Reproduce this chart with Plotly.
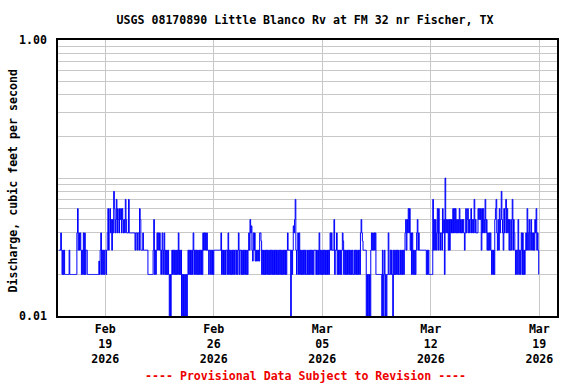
import pandas as pd
import plotly.graph_objects as go

# ---- data (hourly discharge codes, one string per day starting 2026-02-16) ----
start_time = "2026-02-16 00:00"
level_values = {"1": 0.01, "2": 0.02, "b": 0.025, "3": 0.03, "c": 0.035, "4": 0.04,
                "d": 0.045, "5": 0.05, "6": 0.06, "7": 0.07, "8": 0.08, "A": 0.10}
day_codes = [
    "333432323222222232222222",
    "222246343432324242332222",
    "22222222222222b234232323",
    "323463564535486457465465",
    "646545475444744444444434",
    "434436533343333333222222",
    "223523234343432342342323",
    "232121232323232324232312",
    "121212123232323243232323",
    "232323243434343323323232",
    "333333333334232323233242",
    "323232323323234233232323",
    "2323234354d3b434b3b3b3b4",
    "4c2323232323232323232323",
    "232323232323232323433331",
    "323d45732342423232323232",
    "232323232323332323242323",
    "232323232323434333523342",
    "32323234c232323232323232",
    "23232323232454c333331212",
    "121343434342222222221312",
    "312122422323213232323232",
    "232323234535464634242323",
    "234534333333333332323222",
    "2227353534636434436452A4",
    "545353545464646454546454",
    "545434645645456454574544",
    "465656364645745343434323",
    "232567435364585436467464",
    "535335735432323523234242",
    "323436345345343435463432",
]
tick_dates = ["2026-02-19", "2026-02-26", "2026-03-05", "2026-03-12", "2026-03-19"]
tick_labels = ["Feb<br>19<br>2026", "Feb<br>26<br>2026", "Mar<br>05<br>2026",
               "Mar<br>12<br>2026", "Mar<br>19<br>2026"]
y_tick_vals = [0.01, 1.0]
y_tick_labels = ["0.01", "1.00"]
y_grid_vals = [0.02, 0.03, 0.04, 0.05, 0.06, 0.07, 0.08, 0.09,
               0.1, 0.2, 0.3, 0.4, 0.5, 0.6, 0.7, 0.8, 0.9]
x_range = ["2026-02-15 22:46", "2026-03-20 03:20"]

title_text = "USGS 08170890 Little Blanco Rv at FM 32 nr Fischer, TX"
y_title = "Discharge, cubic feet per second"
footer = "---- Provisional Data Subject to Revision ----"

# ---- build series ----
t0 = pd.Timestamp(start_time)
times, vals = [], []
for i, s in enumerate(day_codes):
    for j, ch in enumerate(s):
        times.append((t0 + pd.Timedelta(days=i, hours=j)).strftime("%Y-%m-%d %H:%M"))
        vals.append(level_values[ch])

FONT = "DejaVu Sans Mono"
FS = 11.6
GRID = "#c8c8c8"

fig = go.Figure()
fig.add_trace(go.Scatter(x=times, y=vals, mode="lines",
                         line=dict(color="#0000ff", width=1, shape="hv"),
                         showlegend=False, hoverinfo="skip"))

fig.update_layout(
    width=576, height=384,
    margin=dict(l=58, r=19, t=40, b=68),
    paper_bgcolor="white", plot_bgcolor="white",
    font=dict(family=FONT, size=FS, color="black", weight="bold"),
    title=dict(text=title_text, x=305 / 576, xanchor="center",
               y=1 - 20 / 384, yanchor="middle", xref="container", yref="container",
               font=dict(family=FONT, size=FS, color="black", weight="bold")),
    xaxis=dict(type="date", range=x_range, tickmode="array",
               tickvals=tick_dates, ticktext=tick_labels,
               showgrid=True, gridcolor=GRID, gridwidth=1,
               showline=True, linecolor="black", linewidth=1.5, mirror=True,
               ticks="", zeroline=False, ticklabelstandoff=1),
    yaxis=dict(type="log", range=[-2, 0], tickmode="array",
               tickvals=y_tick_vals, ticktext=y_tick_labels,
               showgrid=False, showline=True, linecolor="black", linewidth=1.5,
               mirror=True, ticks="", zeroline=False, ticklabelstandoff=7,
               minor=dict(tickmode="array", tickvals=y_grid_vals, showgrid=True,
                          gridcolor=GRID, gridwidth=1, ticks="")),
)

fig.add_annotation(text=y_title, xref="paper", yref="paper",
                   x=(13 - 58) / 499, y=(316 - 181.5) / 276,
                   xanchor="center", yanchor="middle", textangle=-90,
                   showarrow=False, font=dict(family=FONT, size=FS, color="black", weight="bold"))
fig.add_annotation(text=footer, xref="paper", yref="paper",
                   x=(305.5 - 58) / 499, y=(316 - 376) / 276,
                   xanchor="center", yanchor="middle", showarrow=False,
                   font=dict(family=FONT, size=FS, color="#ee0000", weight="bold"))

fig.write_html("out.html", config={"displayModeBar": False},
               post_script="document.body.style.margin='0';document.body.style.overflow='hidden';")
